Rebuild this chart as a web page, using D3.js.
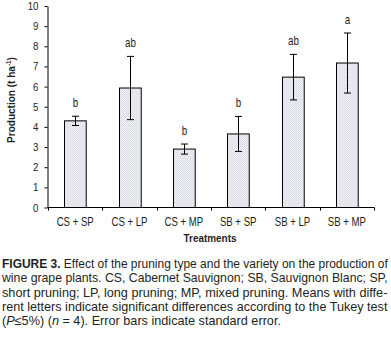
<!DOCTYPE html>
<html>
<head>
<meta charset="utf-8">
<script src="https://cdn.jsdelivr.net/npm/d3@7"></script>
<style>
  body { margin: 0; background: #fff; }
  svg { display: block; }
  text { font-family: 'Liberation Sans', Arial, sans-serif; fill: #231f20; }
</style>
</head>
<body>
<svg width="391" height="342"></svg>
<script>
const treatments = ['CS + SP', 'CS + LP', 'CS + MP', 'SB + SP', 'SB + LP', 'SB + MP'];
const production = [4.3, 5.93, 2.9, 3.65, 6.47, 7.17];
const stdError = [0.23, 1.57, 0.25, 0.87, 1.13, 1.49];
const letters = ['b', 'ab', 'b', 'b', 'ab', 'a'];
const yTicks = [0, 1, 2, 3, 4, 5, 6, 7, 8, 9, 10];

// caption, one entry per printed line; each line is a list of [text, style]
const captionLines = [
	[['FIGURE 3.', 'b'], [' Effect of the pruning type and the variety on the production of', '']],
	[['wine grape plants. CS, Cabernet Sauvignon; SB, Sauvignon Blanc; SP,', '']],
	[['short pruning; LP, long pruning; MP, mixed pruning. Means with diffe-', '']],
	[['rent letters indicate significant differences according to the Tukey test', '']],
	[['(', ''], ['P', 'i'], ['\u22645%) (', ''], ['n', 'i'], [' = 4). Error bars indicate standard error.', '']]
];

const data = treatments.map((t, i) => ({
	name: t, value: production[i], se: stdError[i], letter: letters[i]
}));

const svg = d3.select('svg');

// no narrow font installed, so squeeze text horizontally with a transform
const squeeze = (sel, k) => sel.each(function() {
	const s = d3.select(this);
	const x = +s.attr('x') || 0, y = +s.attr('y') || 0;
	const prev = s.attr('transform') || '';
	const kk = typeof k === 'function' ? k(this) : k;
	s.attr('x', 0).attr('y', 0)
		.attr('transform', `${prev} translate(${x},${y}) scale(${kk},1)`);
});

const xScale = d3.scaleBand()
	.domain(treatments)
	.range([48, 374])
	.paddingInner(0.6)
	.paddingOuter(0.3);

const yScale = d3.scaleLinear()
	.domain([0, 10])
	.range([207.5, 6]);

// fill pattern for the bars (fine stipple)
const defs = svg.append('defs');
const pat = defs.append('pattern')
	.attr('id', 'stip')
	.attr('width', 2).attr('height', 2)
	.attr('patternUnits', 'userSpaceOnUse');
pat.append('rect').attr('width', 2).attr('height', 2).attr('fill', '#eeeef3');
pat.append('rect').attr('width', 1).attr('height', 1).attr('fill', '#d9dbe4');
pat.append('rect').attr('x', 1).attr('y', 1).attr('width', 1).attr('height', 1).attr('fill', '#e2e3ea');

// y axis
const yAxis = d3.axisLeft(yScale)
	.tickValues(yTicks)
	.tickSize(3)
	.tickPadding(6)
	.tickSizeOuter(0);

const yg = svg.append('g')
	.attr('transform', 'translate(47.5,0)')
	.call(yAxis);
yg.selectAll('text').style('font-size', '11px');
squeeze(yg.selectAll('text'), 0.88);

// x axis: ticks at band boundaries
const step = xScale.step();
const x0 = xScale.range()[0];
const xg = svg.append('g');
xg.append('line')
	.attr('x1', 47.5).attr('x2', xScale.range()[1] + 0.5)
	.attr('y1', yScale(0)).attr('y2', yScale(0))
	.attr('stroke', '#000');
xg.selectAll('.xt').data(d3.range(treatments.length + 1))
	.enter().append('line')
	.attr('class', 'xt')
	.attr('x1', i => Math.round(x0 + i * step) + 0.5)
	.attr('x2', i => Math.round(x0 + i * step) + 0.5)
	.attr('y1', yScale(0)).attr('y2', yScale(0) + 3)
	.attr('stroke', '#000');
const xl = xg.selectAll('.xl').data(treatments)
	.enter().append('text')
	.attr('class', 'xl')
	.attr('x', d => xScale(d) + xScale.bandwidth() / 2)
	.attr('y', 226)
	.attr('text-anchor', 'middle')
	.style('font-size', '12px')
	.text(d => d);
squeeze(xl, 0.8);

// bars
svg.selectAll('.bar').data(data)
	.enter().append('rect')
	.attr('class', 'bar')
	.attr('x', d => Math.round(xScale(d.name)) + 0.5)
	.attr('y', d => yScale(d.value))
	.attr('width', xScale.bandwidth())
	.attr('height', d => yScale(0) - yScale(d.value))
	.attr('fill', 'url(#stip)')
	.attr('stroke', '#000')
	.attr('stroke-width', 1);

// error bars
const eb = svg.selectAll('.err').data(data)
	.enter().append('g')
	.attr('class', 'err')
	.attr('transform', d => `translate(${Math.round(xScale(d.name) + xScale.bandwidth() / 2) + 0.5},0)`);
eb.append('line')
	.attr('y1', d => yScale(d.value + d.se))
	.attr('y2', d => yScale(d.value - d.se))
	.attr('stroke', '#000');
eb.append('line')
	.attr('x1', -3.5).attr('x2', 3.5)
	.attr('y1', d => yScale(d.value + d.se))
	.attr('y2', d => yScale(d.value + d.se))
	.attr('stroke', '#000');
eb.append('line')
	.attr('x1', -3.5).attr('x2', 3.5)
	.attr('y1', d => yScale(d.value - d.se))
	.attr('y2', d => yScale(d.value - d.se))
	.attr('stroke', '#000');
const lt = eb.append('text')
	.attr('y', d => yScale(d.value + d.se) - 9)
	.attr('text-anchor', 'middle')
	.style('font-size', '12.5px')
	.text(d => d.letter);
squeeze(lt, 0.78);

// axis titles
const ylab = svg.append('text')
	.attr('transform', 'translate(14.5,100) rotate(-90)')
	.attr('text-anchor', 'middle')
	.style('font-size', '11px')
	.style('font-weight', 'bold');
ylab.append('tspan').text('Production (t ha');
ylab.append('tspan').attr('dy', -4).style('font-size', '7px').text('-1');
ylab.append('tspan').attr('dy', 4).text(')');
squeeze(ylab, el => 86 / el.getComputedTextLength());

const xlab = svg.append('text')
	.attr('x', 210)
	.attr('y', 242)
	.attr('text-anchor', 'middle')
	.style('font-size', '11.5px')
	.style('font-weight', 'bold')
	.text('Treatments');
squeeze(xlab, el => 53 / el.getComputedTextLength());

// caption
const capY = [267.7, 282.3, 296.7, 311, 325];
captionLines.forEach((segs, i) => {
	const t = svg.append('text')
		.attr('x', 2)
		.attr('y', capY[i])
		.style('font-size', '12.5px');
	segs.forEach(([s, st]) => {
		const ts = t.append('tspan').text(s);
		if (st === 'b') ts.style('font-weight', 'bold');
		if (st === 'i') ts.style('font-style', 'italic');
	});
	const target = i < captionLines.length - 1 ? 386 : 279;
	squeeze(t, el => target / el.getComputedTextLength());
});
</script>
</body>
</html>
